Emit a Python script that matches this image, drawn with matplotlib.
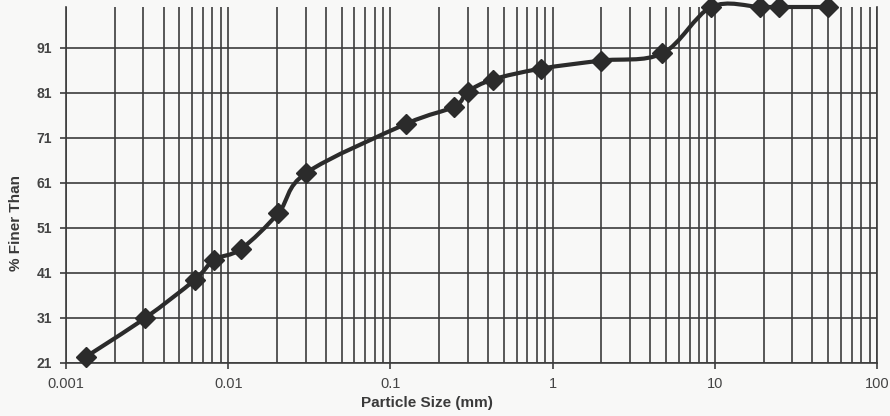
import numpy as np
import matplotlib
matplotlib.use("Agg")
from matplotlib import pyplot as plt
from matplotlib.path import Path
from matplotlib.patches import PathPatch
from matplotlib.ticker import LogLocator, FixedLocator, NullFormatter

# sieve / hydrometer results
size_mm = [0.00133, 0.00308, 0.0062, 0.0082, 0.012, 0.0204, 0.0303, 0.1256,
           0.248, 0.300, 0.427, 0.843, 1.98, 4.75, 9.5, 19.0, 25.0, 50.0]
pct_finer = [22.4, 31.0, 39.4, 43.9, 46.3, 54.3, 63.2, 74.1,
             77.9, 81.2, 83.9, 86.3, 88.1, 89.7, 100.0, 100.0, 100.0, 100.0]

y_ticks = [21, 31, 41, 51, 61, 71, 81, 91]
x_ticks = [0.001, 0.01, 0.1, 1, 10, 100]
x_labels = ["0.001", "0.01", "0.1", "1", "10", "100"]

plt.rcParams["font.family"] = ["Liberation Sans", "DejaVu Sans"]

bg = "#f8f8f7"
grid_c = "#3c3c3c"
line_c = "#2b2b2b"


def smooth_path(xs, ys, tension=1 / 6):
    # Catmull-Rom style bezier in (log x, y) space, like Excel's smoothed line
    lx = np.log10(xs)
    ys = np.asarray(ys, float)
    n = len(lx)
    verts = [(xs[0], ys[0])]
    codes = [Path.MOVETO]
    for i in range(n - 1):
        i0 = max(i - 1, 0)
        i3 = min(i + 2, n - 1)
        c1 = (lx[i] + (lx[i + 1] - lx[i0]) * tension, ys[i] + (ys[i + 1] - ys[i0]) * tension)
        c2 = (lx[i + 1] - (lx[i3] - lx[i]) * tension, ys[i + 1] - (ys[i3] - ys[i]) * tension)
        verts += [(10 ** c1[0], c1[1]), (10 ** c2[0], c2[1]), (xs[i + 1], ys[i + 1])]
        codes += [Path.CURVE4] * 3
    return Path(verts, codes)


fig = plt.figure(figsize=(8.9, 4.16), dpi=100, facecolor=bg)
ax = fig.add_axes([66 / 890, (416 - 363) / 416, 811 / 890, 356 / 416])
ax.set_facecolor(bg)

ax.set_xscale("log")
ax.set_xlim(0.001, 100)
ax.set_ylim(21, 100)

ax.xaxis.set_major_locator(FixedLocator(x_ticks))
ax.set_xticklabels(x_labels)
ax.xaxis.set_minor_locator(LogLocator(base=10, subs=np.arange(2, 10)))
ax.xaxis.set_minor_formatter(NullFormatter())
ax.set_yticks(y_ticks)

ax.grid(True, which="both", axis="x", color=grid_c, linewidth=1.2)
ax.grid(True, which="major", axis="y", color=grid_c, linewidth=1.2)
ax.set_axisbelow(True)

ax.spines["top"].set_visible(False)
for s in ["left", "right", "bottom"]:
    ax.spines[s].set_color(grid_c)
    ax.spines[s].set_linewidth(1.2)

ax.tick_params(which="major", length=4, width=1.2, color=grid_c,
               labelcolor="#444444")
ax.tick_params(which="minor", length=0)
ax.tick_params(axis="x", pad=6, labelsize=10.5)
ax.tick_params(axis="y", pad=6, labelsize=10)
for lbl in ax.get_yticklabels():
    lbl.set_fontweight("bold")

ax.add_patch(PathPatch(smooth_path(size_mm, pct_finer), facecolor="none",
                       edgecolor=line_c, linewidth=3, clip_on=False, zorder=3))
ax.plot(size_mm, pct_finer, linestyle="none", marker="D", markersize=10,
        color=line_c, clip_on=False, zorder=4)

ax.set_xlabel("Particle Size (mm)", fontsize=11, fontweight="bold", color="#3a3a3a")
ax.set_ylabel("% Finer Than", fontsize=11, fontweight="bold", color="#3a3a3a")
ax.xaxis.set_label_coords((427 - 66) / 811, (363 - 403) / 356)
ax.yaxis.set_label_coords((16 - 66) / 811, (363 - 223) / 356)
ax.xaxis.label.set_va("center")
ax.yaxis.label.set_va("center")

fig.savefig("out.png", dpi=100, facecolor=bg)
